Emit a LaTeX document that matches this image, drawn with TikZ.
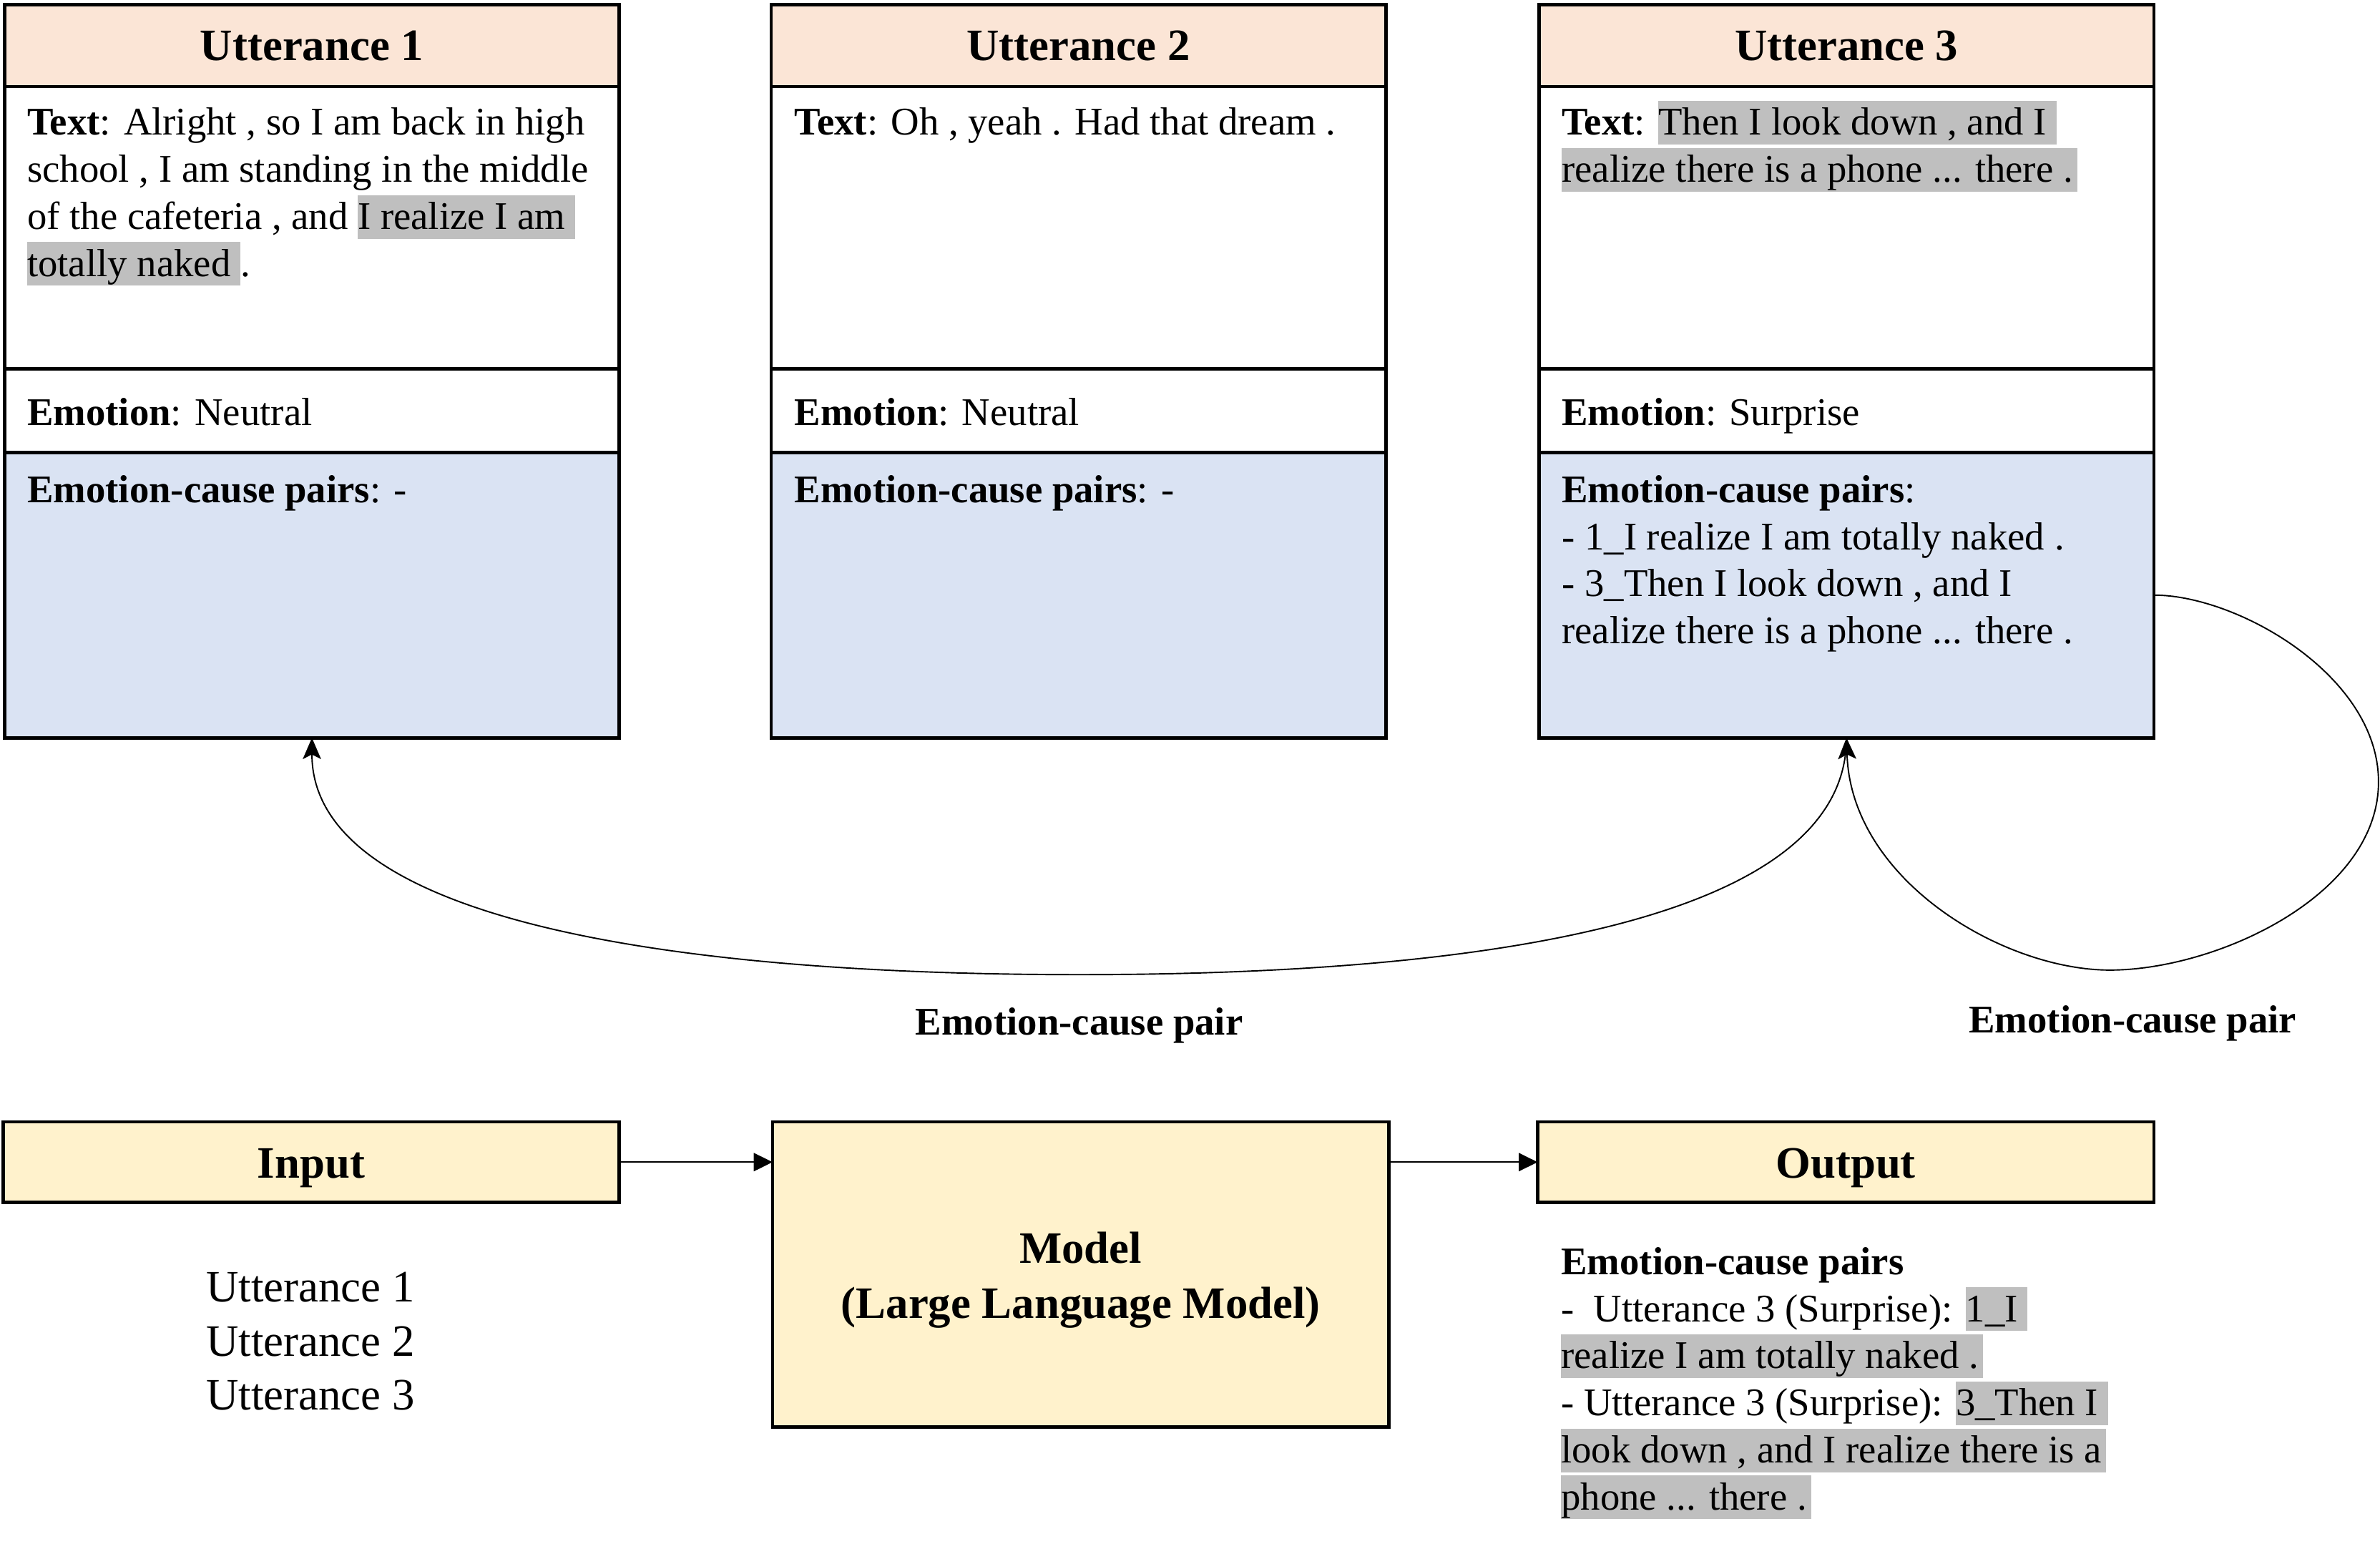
\documentclass[tikz,border=0pt]{standalone}
\usepackage{fontspec}
\setmainfont{Liberation Serif}
\usetikzlibrary{arrows.meta}
\definecolor{peach}{HTML}{FBE5D6}
\definecolor{paleblue}{HTML}{DAE3F3}
\definecolor{cream}{HTML}{FFF2CC}
\definecolor{hlgray}{HTML}{BFBFBF}
\newcommand{\dgbody}{\fontsize{12.9pt}{15.5pt}\selectfont}
\newcommand{\dghead}{\fontsize{14.8pt}{18pt}\selectfont}
\newcommand{\hlt}[1]{{\setlength{\fboxsep}{0pt}\colorbox{hlgray}{\rule[-3.1pt]{0pt}{14.35pt}\smash{#1}}}}
\begin{document}
\begin{tikzpicture}[x=0.5pt,y=-0.5pt,
  part/.style={draw, line width=1.1pt, inner sep=0pt, outer sep=0pt, anchor=north west, minimum width=202.5pt},
  txt/.style={font=\dgbody, anchor=base west, inner sep=0pt, outer sep=0pt},
  hd/.style={font=\dghead\bfseries, anchor=base, inner sep=0pt, outer sep=0pt},
  lst/.style={font=\dghead, anchor=base west, inner sep=0pt, outer sep=0pt},
  lab/.style={font=\dgbody\bfseries, anchor=base, inner sep=0pt, outer sep=0pt},
  conn/.style={line width=0.45pt},
  carr/.style={-{Stealth[length=7pt,width=6pt,inset=1.5pt]}},
  sarr/.style={-{Triangle[length=6.2pt,width=6pt]}}
]
\useasboundingbox (0,0) rectangle (1568,1017);

% utterance boxes
\foreach \i/\x in {1/3,2/508,3/1014}{
  \node[part, fill=peach, minimum height=27pt] (u\i-h) at (\x,3) {};
  \node[part, fill=white, minimum height=93pt] (u\i-t) at (\x,57) {};
  \node[part, fill=white, minimum height=27.5pt] (u\i-e) at (\x,243) {};
  \node[part, fill=paleblue, minimum height=94pt] (u\i-p) at (\x,298) {};
}

% headers
\node[hd] (u1-ht) at (205.5,40) {Utterance 1};
\node[hd] (u2-ht) at (710.5,40) {Utterance 2};
\node[hd] (u3-ht) at (1216.5,40) {Utterance 3};

% utterance 1
\node[txt] (u1-l1) at (18,89) {\textbf{Text}: Alright , so I am back in high};
\node[txt] (u1-l2) at (18,120) {school , I am standing in the middle};
\node[txt] (u1-l3) at (18,151) {of the cafeteria , and \hlt{I realize I am\ }};
\node[txt] (u1-l4) at (18,182) {\hlt{totally naked\ }.};
\node[txt] (u1-em) at (18,280) {\textbf{Emotion}: Neutral};
\node[txt] (u1-pr) at (18,331) {\textbf{Emotion-cause pairs}: -};

% utterance 2
\node[txt] (u2-l1) at (523.5,89) {\textbf{Text}: Oh , yeah . Had that dream .};
\node[txt] (u2-em) at (523.5,280) {\textbf{Emotion}: Neutral};
\node[txt] (u2-pr) at (523.5,331) {\textbf{Emotion-cause pairs}: -};

% utterance 3
\node[txt] (u3-l1) at (1029,89) {\textbf{Text}: \hlt{Then I look down , and I\ }};
\node[txt] (u3-l2) at (1029,120) {\hlt{realize there is a phone ... there .\kern1.5pt}};
\node[txt] (u3-em) at (1029,280) {\textbf{Emotion}: Surprise};
\node[txt] (u3-p1) at (1029,331) {\textbf{Emotion-cause pairs}:};
\node[txt] (u3-p2) at (1029,362) {- 1\_I realize I am totally naked .};
\node[txt] (u3-p3) at (1029,393) {- 3\_Then I look down , and I};
\node[txt] (u3-p4) at (1029,424) {realize there is a phone ... there .};

% bottom row
\node[part, fill=cream, minimum width=203pt, minimum height=26.5pt] (in) at (2,739) {};
\node[part, fill=cream, minimum width=203pt, minimum height=100.5pt] (model) at (509,739) {};
\node[part, fill=cream, minimum width=203pt, minimum height=26.5pt] (out) at (1013,739) {};
\node[hd] (in-t) at (205,776) {Input};
\node[hd] (out-t) at (1216,776) {Output};
\node[hd] (model-t1) at (712,832) {Model};
\node[hd] (model-t2) at (712,868.5) {(Large Language Model)};

\node[lst] (li1) at (136,857.5) {Utterance 1};
\node[lst] (li2) at (136,893.5) {Utterance 2};
\node[lst] (li3) at (136,928.5) {Utterance 3};

\node[txt] (o1) at (1028.5,839.5) {\textbf{Emotion-cause pairs}};
\node[txt] (o2) at (1028.5,870.5) {-\hspace{0.5em}Utterance 3 (Surprise): \hlt{1\_I\ }};
\node[txt] (o3) at (1028.5,901.5) {\hlt{realize I am totally naked .\kern1.5pt}};
\node[txt] (o4) at (1028.5,932.5) {- Utterance 3 (Surprise): \hlt{3\_Then I\ }};
\node[txt] (o5) at (1028.5,963.5) {\hlt{look down , and I realize there is a\kern1.5pt}};
\node[txt] (o6) at (1028.5,994.5) {\hlt{phone ... there .\kern1.5pt}};

% straight connectors
\draw[conn, sarr] (in.east) -- (in.east -| model.west);
\draw[conn, sarr] (out.west -| model.east) -- (out.west);

% curved connectors
\coordinate (m1) at (711,642);
\coordinate (m2) at (1567,515);
\coordinate (m3) at (1390,639);
\draw[conn, carr] (u3-p.south) .. controls +(0,120) and +(270,0) .. (m1)
  .. controls +(-270,0) and +(0,120) .. (u1-p.south);
\draw[conn, carr] (u3-p.east) .. controls +(55,0) and +(0,-70) .. (m2)
  .. controls +(0,75) and +(70,0) .. (m3)
  .. controls +(-70,0) and +(3,94) .. (u3-p.south);

\node[lab] (lab1) at (711,681.5) {Emotion-cause pair};
\node[lab] (lab2) at (1405,680.5) {Emotion-cause pair};
\end{tikzpicture}
\end{document}
